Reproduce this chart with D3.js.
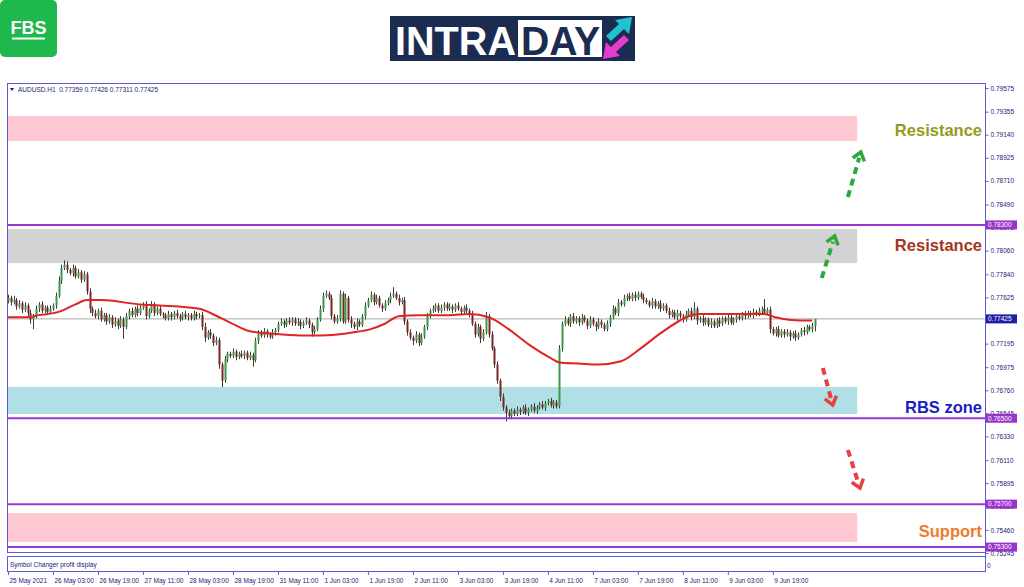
<!DOCTYPE html>
<html><head><meta charset="utf-8">
<script src="https://cdn.jsdelivr.net/npm/d3@7/dist/d3.min.js"></script>
<style>body{margin:0;background:#fff}svg{display:block}</style>
</head><body><svg id="c" width="1024" height="587"></svg>
<script>
// ---------------- DATA ----------------
const symbolTitle = "AUDUSD.H1  0.77359 0.77426 0.77311 0.77425";
const firstOpen = 0.7759;
const closes = [
0.7762,0.7758,0.7760,0.7754,0.7757,0.7751,0.7755,0.7748,0.7742,0.7745,
0.7752,0.7756,0.7750,0.7753,0.7749,0.7752,0.7755,0.7764,0.7778,0.7790,
0.7793,0.7788,0.7785,0.7790,0.7782,0.7786,0.7779,0.7784,0.7768,0.7752,
0.7748,0.7745,0.7750,0.7742,0.7746,0.7740,0.7744,0.7737,0.7741,0.7736,
0.7742,0.7735,0.7745,0.7750,0.7746,0.7752,0.7748,0.7753,0.7755,0.7745,
0.7750,0.7756,0.7748,0.7752,0.7747,0.7746,0.7743,0.7747,0.7744,0.7748,
0.7745,0.7743,0.7747,0.7744,0.7746,0.7743,0.7747,0.7745,0.7746,0.7735,
0.7725,0.7730,0.7727,0.7720,0.7723,0.7700,0.7685,0.7705,0.7710,0.7708,
0.7712,0.7707,0.7710,0.7708,0.7711,0.7706,0.7709,0.7704,0.7722,0.7730,
0.7727,0.7731,0.7728,0.7726,0.7730,0.7732,0.7738,0.7740,0.7737,0.7741,
0.7739,0.7742,0.7738,0.7740,0.7736,0.7739,0.7741,0.7737,0.7730,0.7733,
0.7742,0.7752,0.7764,0.7766,0.7762,0.7745,0.7740,0.7743,0.7766,0.7740,
0.7762,0.7742,0.7738,0.7735,0.7740,0.7737,0.7745,0.7755,0.7760,0.7765,
0.7758,0.7762,0.7755,0.7752,0.7757,0.7760,0.7764,0.7766,0.7762,0.7758,
0.7760,0.7740,0.7730,0.7725,0.7722,0.7728,0.7720,0.7726,0.7735,0.7745,
0.7750,0.7752,0.7755,0.7750,0.7753,0.7756,0.7752,0.7754,0.7751,0.7755,
0.7752,0.7749,0.7753,0.7750,0.7747,0.7738,0.7728,0.7735,0.7724,0.7730,
0.7745,0.7728,0.7715,0.7700,0.7685,0.7670,0.7660,0.7655,0.7652,0.7657,
0.7654,0.7658,0.7656,0.7660,0.7655,0.7658,0.7661,0.7657,0.7660,0.7663,
0.7660,0.7664,0.7666,0.7662,0.7665,0.7661,0.7715,0.7738,0.7742,0.7738,
0.7745,0.7740,0.7743,0.7739,0.7744,0.7741,0.7736,0.7742,0.7738,0.7735,
0.7740,0.7737,0.7733,0.7738,0.7744,0.7752,0.7748,0.7758,0.7756,0.7762,
0.7764,0.7761,0.7765,0.7762,0.7766,0.7763,0.7760,0.7758,0.7755,0.7759,
0.7754,0.7757,0.7752,0.7755,0.7750,0.7746,0.7749,0.7744,0.7748,0.7745,
0.7742,0.7747,0.7750,0.7744,0.7752,0.7741,0.7743,0.7739,0.7742,0.7737,
0.7740,0.7736,0.7741,0.7738,0.7743,0.7740,0.7744,0.7739,0.7742,0.7745,
0.7743,0.7747,0.7745,0.7748,0.7746,0.7749,0.7747,0.7750,0.7752,0.7748,
0.7751,0.7733,0.7729,0.7733,0.7727,0.7731,0.7728,0.7730,0.7726,0.7729,
0.7725,0.7728,0.7732,0.7730,0.7735,0.7733,0.77359,0.77425
];
const upperWickPips = [
3,2,4,2,3,2,3,2,3,2, 3,2,3,2,2,3,2,3,4,3, 4,3,2,3,2,3,2,3,2,3, 2,3,2,3,2,2,3,2,3,2,
3,2,3,2,3,2,3,2,3,4, 2,3,2,2,3,2,2,3,2,2, 3,2,2,3,2,2,3,2,2,3, 4,2,3,2,3,2,2,3,2,2,
3,2,2,3,2,2,3,2,3,2, 2,3,2,2,3,2,2,3,2,2, 3,2,2,3,2,2,3,2,2,3, 2,3,3,3,2,3,2,3,3,2,
4,2,3,2,3,2,2,3,2,3, 2,3,2,2,3,2,3,6,2,3, 2,3,2,3,2,3,2,3,2,3, 2,3,2,2,3,2,2,3,2,2,
3,2,2,3,2,3,2,3,2,3, 4,2,3,2,3,2,3,2,3,2, 2,3,2,2,3,2,2,3,2,2, 3,2,2,3,2,2,3,2,3,2,
2,3,2,2,3,2,2,3,2,2, 3,2,2,3,2,3,2,3,2,3, 2,3,2,3,2,2,3,2,2,3, 2,2,3,2,2,3,2,2,3,2,
2,3,2,3,6,2,2,3,2,2, 3,2,2,3,2,2,3,2,2,3, 2,2,3,2,2,3,2,3,2,9, 2,3,2,2,3,2,2,3,2,2,
3,2,2,3,2,2,3,0
];
const lowerWickPips = [
2,3,2,3,2,3,2,3,4,9, 2,3,2,2,3,2,2,3,2,3, 2,3,2,3,2,2,3,2,3,4, 3,2,3,2,2,3,2,3,2,3,
2,11,2,3,2,2,3,2,2,3, 2,2,3,2,2,3,2,2,3,2, 2,3,2,2,3,2,2,3,2,3, 4,2,3,3,2,4,6,2,3,2,
2,3,2,2,3,2,2,6,2,3, 2,2,3,2,2,3,2,2,3,2, 2,3,2,2,3,2,2,3,4,2, 2,2,3,2,2,3,2,2,3,2,
2,3,4,2,3,2,2,3,2,2, 3,2,2,3,2,2,3,2,2,3, 2,3,3,2,4,2,3,2,2,3, 2,2,3,2,2,3,2,2,3,2,
2,3,2,2,3,2,3,2,4,2, 2,3,2,3,3,4,3,8,2,3, 2,2,3,2,2,3,2,2,3,2, 2,3,2,2,3,2,2,3,2,2,
3,2,2,3,2,2,3,2,2,4, 2,3,2,2,3,2,2,3,2,2, 3,2,2,3,2,2,3,2,2,3, 2,2,3,2,2,3,2,2,3,2,
3,2,2,3,2,4,2,3,2,2, 3,2,2,3,2,2,3,2,2,3, 2,2,3,2,2,3,2,2,3,2, 2,4,2,3,2,2,3,2,4,2,
3,2,2,3,2,2,3,5
];
// moving average: [bar index, price]
const maPoints = [[0,0.7744],[7,0.7744],[11,0.7746],[18,0.7749],[24,0.7756],[28,0.7760],[33,0.7760],
[47,0.7756],[54,0.7755],[68,0.7752],[72,0.7748],[79,0.7739],[86,0.7731],[93,0.7729],[104,0.7727],
[111,0.7727],[123,0.7730],[129,0.7733],[134,0.7738],[139,0.7745],[146,0.7746],[157,0.7746],
[164,0.7747],[171,0.7744],[178,0.7733],[185,0.7719],[193,0.7706],[196,0.7702],[203,0.7701],
[210,0.7700],[218,0.7703],[225,0.7715],[232,0.7729],[239,0.7741],[242,0.7745],[246,0.7747],
[260,0.7747],[269,0.7747],[273,0.7744],[282,0.7741],[286,0.7741]];
const timeLabels = ["25 May 2021","26 May 03:00","26 May 19:00","27 May 11:00","28 May 03:00","28 May 19:00",
"31 May 11:00","1 Jun 03:00","1 Jun 19:00","2 Jun 11:00","3 Jun 03:00","3 Jun 19:00","4 Jun 11:00",
"7 Jun 03:00","7 Jun 19:00","8 Jun 11:00","9 Jun 03:00","9 Jun 19:00"];
const barsPerLabel = 16;
const priceTicks = [0.79575,0.79355,0.79140,0.78925,0.78710,0.78490,0.78275,0.78060,0.77840,0.77625,
0.77195,0.76975,0.76760,0.76545,0.76330,0.76110,0.75895,0.75680,0.75460,0.75245];
const levelLines = [0.78300,0.76500,0.75700,0.75300];
const lastPrice = 0.77425;
const zoneTops = [0.79314,0.78262,0.76791,0.75617];
const zoneBottoms = [0.79081,0.77945,0.76539,0.75347];
const zoneColors = ["#ffc9d3","#d3d3d3","#b0e0e6","#ffc9d3"];
const zoneEndBar = 302;
const labelTexts = ["Resistance","Resistance","RBS zone","Support"];
const labelPrices = [0.79184,0.78113,0.76605,0.75450];
const labelColors = ["#939a1e","#a5351c","#1c1cc4","#f07a2c"];
// arrows: [startBar, startPrice, endBar, endPrice]
const arrowSegs = [[298.7,0.78560,303.3,0.78979],[289.4,0.77806,294.0,0.78197],
[289.8,0.76968,293.3,0.76623],[298.7,0.76204,303.0,0.75850]];
const arrowColors = ["#2ea83a","#2ea83a","#e84040","#e84040"];

// ---------------- LAYOUT ----------------
const svg = d3.select("#c");
const L = 7, R = 985, T = 83, B = 552;
const x = d3.scaleLinear().domain([0, 287]).range([8, 815]);
const y = d3.scaleLinear().domain([0.75245, 0.79575]).range([553, 88]);
const axisFont = "'Liberation Sans', Arial, sans-serif";
const axisColor = "#1a1a78";
const frameColor = "#5b5bd8";

// header: FBS logo
svg.append("rect").attr("x",0).attr("y",0).attr("width",57).attr("height",57).attr("rx",5).attr("fill","#1fb84d");
svg.append("text").attr("x",28.5).attr("y",34).attr("text-anchor","middle").attr("fill","#fff")
  .attr("font-family","'Liberation Sans',Arial,sans-serif").attr("font-weight","bold").attr("font-size",18).text("FBS");
svg.append("rect").attr("x",12).attr("y",37.5).attr("width",33).attr("height",2).attr("fill","#fff");

// INTRADAY logo
const logo = svg.append("g");
logo.append("rect").attr("x",390).attr("y",16).attr("width",245).attr("height",45).attr("fill","#1c2b50");
logo.append("text").attr("x",395).attr("y",55).attr("fill","#fff").attr("font-family","'Liberation Sans',Arial,sans-serif")
  .attr("font-weight","bold").attr("font-size",41).attr("textLength",121).attr("lengthAdjust","spacingAndGlyphs").text("INTRA");
logo.append("rect").attr("x",518).attr("y",20).attr("width",84).attr("height",37).attr("fill","#fff");
logo.append("text").attr("x",521).attr("y",55).attr("fill","#1c2b50").attr("font-family","'Liberation Sans',Arial,sans-serif")
  .attr("font-weight","bold").attr("font-size",41).attr("textLength",79).attr("lengthAdjust","spacingAndGlyphs").text("DAY");
const arrowShape = "13,-12 10,5 5,0 -8,12 -13,7 0,-5 -4,-9";
logo.append("polygon").attr("points",arrowShape).attr("transform","translate(619,29)").attr("fill","#22c2d4");
logo.append("polygon").attr("points",arrowShape).attr("transform","translate(616,47) rotate(180)").attr("fill","#e43ccc");

// ---------------- CHART ----------------
svg.append("defs").append("clipPath").attr("id","clip").append("rect")
  .attr("x",L).attr("y",T).attr("width",R-L).attr("height",B-T);
const plot = svg.append("g").attr("clip-path","url(#clip)");

// zones
plot.selectAll(".zone").data(zoneTops).join("rect")
  .attr("x",L).attr("y",d=>y(d)).attr("width",(d)=>x(zoneEndBar)-L)
  .attr("height",(d,i)=>y(zoneBottoms[i])-y(d)).attr("fill",(d,i)=>zoneColors[i]);

// current price line
plot.append("line").attr("x1",L).attr("x2",R).attr("y1",y(lastPrice)).attr("y2",y(lastPrice))
  .attr("stroke","#a8a8a8").attr("stroke-width",1);

// candles
const candles = closes.map((c,i)=>{
  const o = i===0 ? firstOpen : closes[i-1];
  return {i, o, c, h: Math.max(o,c)+upperWickPips[i]*0.0001, l: Math.min(o,c)-lowerWickPips[i]*0.0001};
});
const cg = plot.append("g");
cg.selectAll(".wick").data(candles).join("line")
  .attr("x1",d=>Math.round(x(d.i))+0.5).attr("x2",d=>Math.round(x(d.i))+0.5)
  .attr("y1",d=>y(d.h)).attr("y2",d=>y(d.l)).attr("stroke","#3a3a3a").attr("stroke-width",1);
cg.selectAll(".body").data(candles).join("rect")
  .attr("x",d=>Math.round(x(d.i))-0.5).attr("width",2)
  .attr("y",d=>y(Math.max(d.o,d.c))).attr("height",d=>Math.max(1,Math.abs(y(d.o)-y(d.c))))
  .attr("fill",d=>d.c>=d.o?"#3a9848":"#7a2424");

// moving average
plot.append("path").datum(maPoints)
  .attr("d",d3.line().x(d=>x(d[0])).y(d=>y(d[1])).curve(d3.curveMonotoneX))
  .attr("fill","none").attr("stroke","#e02424").attr("stroke-width",2);

// level lines
plot.selectAll(".lvl").data(levelLines).join("line")
  .attr("x1",L).attr("x2",R).attr("y1",d=>y(d)).attr("y2",d=>y(d))
  .attr("stroke","#9b35d6").attr("stroke-width",2);

// dashed arrows
arrowSegs.forEach((a,k)=>{
  const x1=x(a[0]), y1=y(a[1]), x2=x(a[2]), y2=y(a[3]);
  const ang = Math.atan2(y2-y1, x2-x1);
  const sx = x2 - Math.cos(ang)*6, sy = y2 - Math.sin(ang)*6;
  plot.append("line").attr("x1",x1).attr("y1",y1).attr("x2",sx).attr("y2",sy)
    .attr("stroke",arrowColors[k]).attr("stroke-width",4).attr("stroke-dasharray","7,5");
  const hl = 10, spread = 0.65;
  const p1 = [x2 - hl*Math.cos(ang-spread), y2 - hl*Math.sin(ang-spread)];
  const p2 = [x2 - hl*Math.cos(ang+spread), y2 - hl*Math.sin(ang+spread)];
  plot.append("polyline").attr("points",[p1,[x2,y2],p2].map(p=>p.join(",")).join(" "))
    .attr("fill","none").attr("stroke",arrowColors[k]).attr("stroke-width",3.5).attr("stroke-linejoin","miter");
});

// zone labels
svg.selectAll(".zl").data(labelTexts).join("text")
  .attr("x",R-3).attr("y",(d,i)=>y(labelPrices[i])).attr("dy","0.36em").attr("text-anchor","end")
  .attr("font-family","'Liberation Sans',Arial,sans-serif").attr("font-weight","bold").attr("font-size",16.5)
  .attr("fill",(d,i)=>labelColors[i]).text(d=>d);

// symbol title
svg.append("path").attr("d","M10,88 L14,88 L12,91 Z").attr("fill",axisColor);
svg.append("text").attr("x",18).attr("y",91.5).attr("font-family",axisFont).attr("font-size",6.5)
  .attr("fill",axisColor).attr("xml:space","preserve").style("white-space","pre").text(symbolTitle);

// frames
svg.append("rect").attr("x",L+0.5).attr("y",T+0.5).attr("width",R-L).attr("height",B-T)
  .attr("fill","none").attr("stroke",frameColor).attr("stroke-width",1);
svg.append("rect").attr("x",L+0.5).attr("y",556.5).attr("width",R-L).attr("height",15)
  .attr("fill","none").attr("stroke",frameColor).attr("stroke-width",1);
svg.append("text").attr("x",10).attr("y",567).attr("font-family",axisFont).attr("font-size",6.5)
  .attr("fill",axisColor).text("Symbol Changer profit display");
svg.append("text").attr("x",987).attr("y",568).attr("font-family",axisFont).attr("font-size",6.5)
  .attr("fill",axisColor).text("0");

// right price axis
const yAxis = d3.axisRight(y).tickValues(priceTicks).tickSize(3).tickPadding(2).tickFormat(d3.format(".5f"));
const ga = svg.append("g").attr("transform",`translate(${R+0.5},0)`).call(yAxis);
ga.select(".domain").remove();
ga.selectAll("line").attr("stroke",frameColor);
ga.selectAll("text").attr("font-family",axisFont).attr("font-size",6.5).attr("fill",axisColor);
svg.append("line").attr("x1",R+0.5).attr("x2",R+0.5).attr("y1",T).attr("y2",572).attr("stroke",frameColor);

// level & current price tags
const tags = levelLines.map(v=>({v, fill:"#9933cc"})).concat([{v:lastPrice, fill:"#1e1ea6"}]);
const tg = svg.selectAll(".tag").data(tags).join("g").attr("transform",d=>`translate(${R+1},${y(d.v)})`);
tg.append("rect").attr("x",0).attr("y",-4.5).attr("width",31).attr("height",9).attr("fill",d=>d.fill);
tg.append("text").attr("x",2).attr("y",0).attr("dy","0.35em").attr("font-family",axisFont).attr("font-size",6.5)
  .attr("fill","#fff").text(d=>d3.format(".5f")(d.v));

// time axis
const tIdx = timeLabels.map((t,k)=>k*barsPerLabel);
const xAxis = d3.axisBottom(x).tickValues(tIdx).tickSize(3).tickPadding(3).tickFormat((d,k)=>timeLabels[k]);
const gx = svg.append("g").attr("transform","translate(0,572)").call(xAxis);
gx.select(".domain").remove();
gx.selectAll("line").attr("stroke",frameColor);
gx.selectAll("text").attr("text-anchor","start").attr("x",1).attr("font-family",axisFont).attr("font-size",6.5).attr("fill",axisColor);
</script></body></html>
